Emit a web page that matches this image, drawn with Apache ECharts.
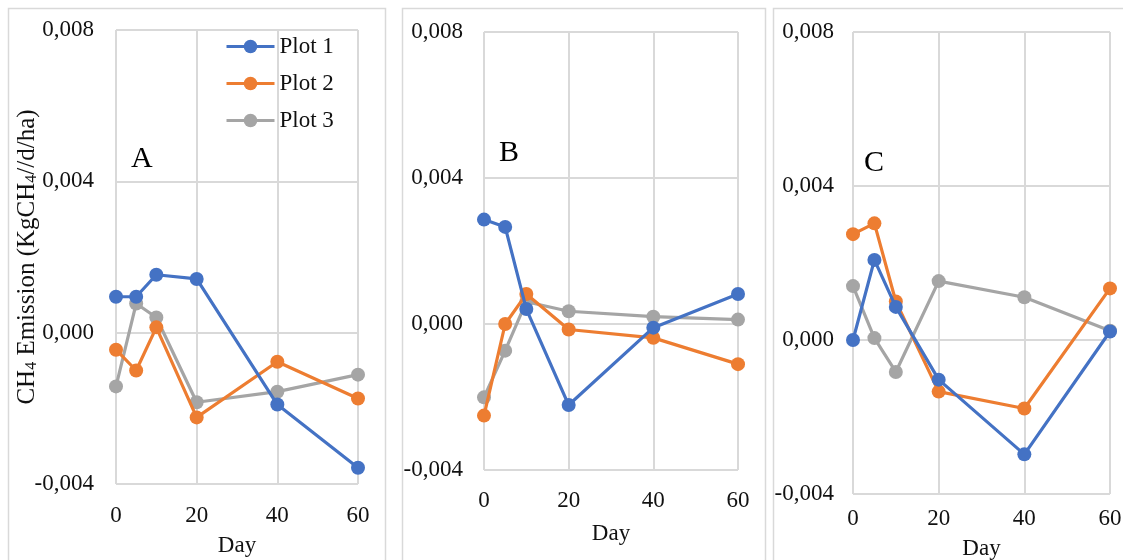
<!DOCTYPE html>
<html>
<head>
<meta charset="utf-8">
<style>
  html, body { margin: 0; padding: 0; background: #fff; }
  #chart { width: 1123px; height: 560px; }
</style>
<script src="https://cdn.jsdelivr.net/npm/echarts@6/dist/echarts.min.js"></script>
</head>
<body>
<div id="chart"></div>
<script>
// days sampled
const days = [0, 5, 10, 20, 40, 60];
const seriesNames = ['Plot 1', 'Plot 2', 'Plot 3'];
const colors = ['#4472C4', '#ED7D31', '#A5A5A5'];

// panel A
const plot1A = [0.00095, 0.00095, 0.00153, 0.00142, -0.0019, -0.00357];
const plot2A = [-0.00045, -0.001, 0.00014, -0.00224, -0.00077, -0.00174];
const plot3A = [-0.00142, 0.00077, 0.0004, -0.00184, -0.00156, -0.00111];
// panel B
const plot1B = [0.00286, 0.00266, 0.00041, -0.00222, -0.0001, 0.00082];
const plot2B = [-0.00251, 0.0, 0.00082, -0.00015, -0.00038, -0.0011];
const plot3B = [-0.00201, -0.00073, 0.00061, 0.00035, 0.0002, 0.00012];
// panel C
const plot1C = [0.0, 0.00208, 0.00086, -0.00103, -0.00297, 0.00022];
const plot2C = [0.00275, 0.00303, 0.001, -0.00134, -0.00178, 0.00134];
const plot3C = [0.0014, 0.00005, -0.00083, 0.00153, 0.00111, 0.00024];

const panelLetters = ['A', 'B', 'C'];
const yName = '{n|CH}{s|4}{n| Emission (KgCH}{s|4}{n|//d/ha)}';

const font = 'Liberation Serif';
const txt = '#111';
const gridColor = '#d9d9d9';

const panels = [
  { grid: { left: 116, right: 765, top: 30, bottom: 76 }, data: [plot1A, plot2A, plot3A], xMargin: 20, xGap: 50, yMargin: 22 },
  { grid: { left: 484, right: 385, top: 32, bottom: 90 }, data: [plot1B, plot2B, plot3B], xMargin: 19, xGap: 52, yMargin: 21 },
  { grid: { left: 853, right: 13, top: 32, bottom: 66 }, data: [plot1C, plot2C, plot3C], xMargin: 13, xGap: 43, yMargin: 19 }
];

function fmt(v) {
  return v.toFixed(3).replace('.', ',');
}

const grids = [], xAxes = [], yAxes = [], series = [];
panels.forEach((p, i) => {
  grids.push(Object.assign({ outerBoundsMode: 'none', containLabel: false }, p.grid));
  xAxes.push({
    gridIndex: i, type: 'value', min: 0, max: 60, interval: 20,
    name: 'Day', nameLocation: 'middle', nameGap: p.xGap, nameMoveOverlap: false,
    nameTextStyle: { fontFamily: font, fontSize: 23, color: txt },
    axisLine: { show: false }, axisTick: { show: false },
    axisLabel: { fontFamily: font, fontSize: 23, color: txt, margin: p.xMargin },
    splitLine: { lineStyle: { color: gridColor, width: 2 } }
  });
  yAxes.push({
    gridIndex: i, type: 'value', min: -0.004, max: 0.008, interval: 0.004,
    name: i === 0 ? yName : '', nameLocation: 'middle', nameGap: 76, nameMoveOverlap: false,
    nameTextStyle: {
      rich: {
        n: { fontFamily: font, fontSize: 25, color: txt },
        s: { fontFamily: font, fontSize: 16, color: txt, verticalAlign: 'bottom', padding: [9, 0, 0, 0] }
      }
    },
    axisLine: { show: false }, axisTick: { show: false },
    axisLabel: { fontFamily: font, fontSize: 23, color: txt, margin: p.yMargin, formatter: fmt },
    splitLine: { lineStyle: { color: gridColor, width: 2 } }
  });
  p.data.forEach((vals, k) => {
    series.push({
      name: seriesNames[k], type: 'line', xAxisIndex: i, yAxisIndex: i,
      data: days.map((d, j) => [d, vals[j]]),
      symbol: 'circle', symbolSize: 14,
      lineStyle: { width: 3.2, color: colors[k] },
      itemStyle: { color: colors[k] },
      z: 3 - k
    });
  });
});

const chart = echarts.init(document.getElementById('chart'));
chart.setOption({
  animation: false,
  backgroundColor: '#fff',
  grid: grids,
  xAxis: xAxes,
  yAxis: yAxes,
  series: series,
  legend: {
    data: seriesNames,
    orient: 'vertical', left: 220, top: 30,
    itemWidth: 48, itemHeight: 17, itemGap: 14,
    lineStyle: { width: 3 },
    textStyle: { fontFamily: font, fontSize: 23, color: txt }
  },
  title: [
    { text: panelLetters[0], left: 126, top: 139 },
    { text: panelLetters[1], left: 494, top: 133 },
    { text: panelLetters[2], left: 859, top: 143 }
  ].map(t => Object.assign(t, { textStyle: { fontFamily: font, fontSize: 30, fontWeight: 'normal', color: '#000' } })),
  graphic: [
    { type: 'rect', shape: { x: 8.5, y: 8.5, width: 377, height: 600 }, style: { fill: 'none', stroke: '#d9d9d9', lineWidth: 1.5 }, silent: true },
    { type: 'rect', shape: { x: 402.5, y: 8.5, width: 363, height: 600 }, style: { fill: 'none', stroke: '#d9d9d9', lineWidth: 1.5 }, silent: true },
    { type: 'rect', shape: { x: 773.5, y: 8.5, width: 400, height: 600 }, style: { fill: 'none', stroke: '#d9d9d9', lineWidth: 1.5 }, silent: true }
  ]
});
window.addEventListener('resize', function () {
  chart.resize();
});
</script>
</body>
</html>
